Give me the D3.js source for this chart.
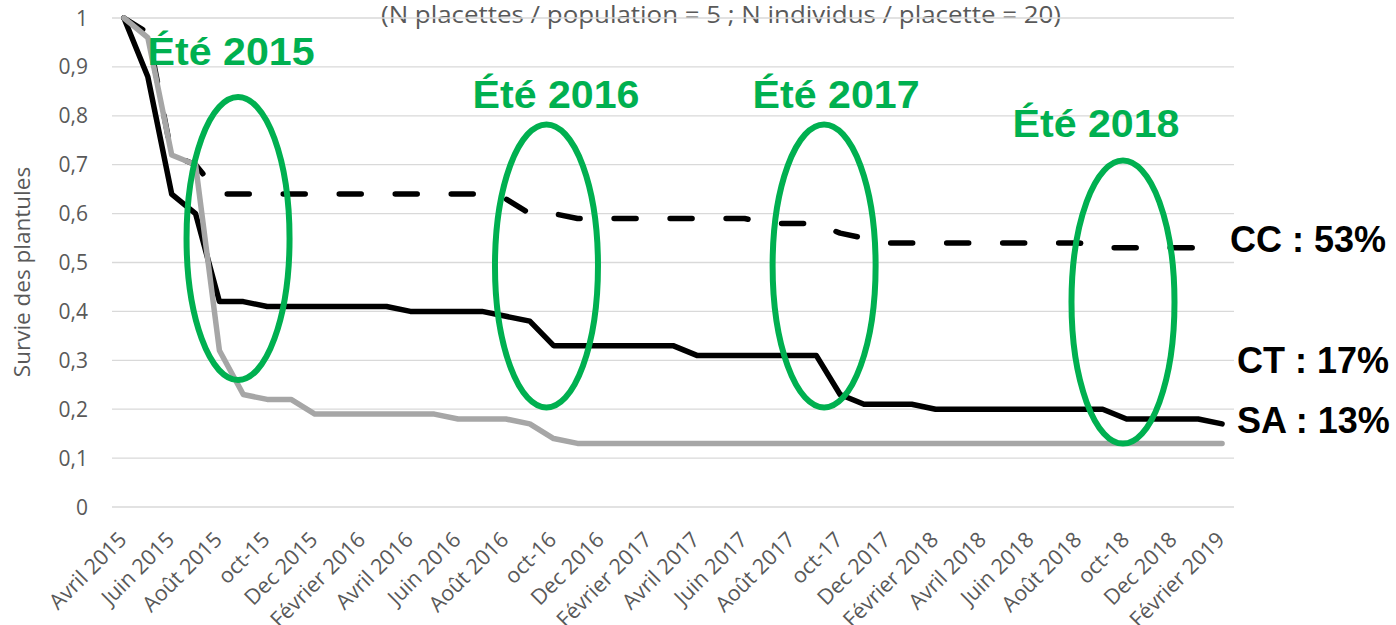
<!DOCTYPE html>
<html>
<head>
<meta charset="utf-8">
<script src="https://cdn.jsdelivr.net/npm/d3@7"></script>
<style>
  body { margin: 0; background: #fff; }
  text { font-family: "Open Sans", sans-serif; }
  .bold { font-family: "Liberation Sans", Arial, sans-serif; font-weight: bold; }
</style>
</head>
<body>
<svg id="chart" width="1396" height="625"></svg>
<script>
// x axis labels (one every two months, data is monthly)
const tickLabels = ['Avril 2015', 'Juin 2015', 'Août 2015', 'oct-15', 'Dec 2015', 'Février 2016',
  'Avril 2016', 'Juin 2016', 'Août 2016', 'oct-16', 'Dec 2016', 'Février 2017',
  'Avril 2017', 'Juin 2017', 'Août 2017', 'oct-17', 'Dec 2017', 'Février 2018',
  'Avril 2018', 'Juin 2018', 'Août 2018', 'oct-18', 'Dec 2018', 'Février 2019'];
const yTicks = [0, 0.1, 0.2, 0.3, 0.4, 0.5, 0.6, 0.7, 0.8, 0.9, 1];

// monthly survival, avril 2015 -> février 2019
const cc = [1, 0.97, 0.72, 0.70, 0.64, 0.64, 0.64, 0.64, 0.64, 0.64, 0.64, 0.64, 0.64, 0.64, 0.64, 0.64,
  0.63, 0.60, 0.60, 0.59, 0.59, 0.59, 0.59, 0.59, 0.59, 0.59, 0.59, 0.58, 0.58, 0.58, 0.56, 0.55,
  0.54, 0.54, 0.54, 0.54, 0.54, 0.54, 0.54, 0.54, 0.54, 0.53, 0.53, 0.53, 0.53, 0.53, 0.53];
const ct = [1, 0.88, 0.64, 0.60, 0.42, 0.42, 0.41, 0.41, 0.41, 0.41, 0.41, 0.41, 0.40, 0.40, 0.40, 0.40,
  0.39, 0.38, 0.33, 0.33, 0.33, 0.33, 0.33, 0.33, 0.31, 0.31, 0.31, 0.31, 0.31, 0.31, 0.23, 0.21,
  0.21, 0.21, 0.20, 0.20, 0.20, 0.20, 0.20, 0.20, 0.20, 0.20, 0.18, 0.18, 0.18, 0.18, 0.17];
const sa = [1, 0.96, 0.72, 0.70, 0.32, 0.23, 0.22, 0.22, 0.19, 0.19, 0.19, 0.19, 0.19, 0.19, 0.18, 0.18,
  0.18, 0.17, 0.14, 0.13, 0.13, 0.13, 0.13, 0.13, 0.13, 0.13, 0.13, 0.13, 0.13, 0.13, 0.13, 0.13,
  0.13, 0.13, 0.13, 0.13, 0.13, 0.13, 0.13, 0.13, 0.13, 0.13, 0.13, 0.13, 0.13, 0.13, 0.13];

// summer annotations (month index, survival value)
const summers = ['Été 2015', 'Été 2016', 'Été 2017', 'Été 2018'];
const summerMonth = [4.78, 17.70, 29.33, 41.85];
const summerValue = [0.549, 0.493, 0.493, 0.419];
const summerLabelMonth = [4.49, 18.10, 29.83, 40.72];
const summerLabelValue = [0.904, 0.816, 0.816, 0.757];

const endLabels = ['CC : 53%', 'CT : 17%', 'SA : 13%'];
const endLabelValue = [0.521, 0.274, 0.151];

const svg = d3.select('#chart');
const left = 112, right = 1234;

const x = d3.scaleLinear().domain([-0.5, cc.length - 0.5]).range([left, right]);
const y = d3.scaleLinear().domain([0, 1]).range([507, 18]);

// subtitle (sits behind the grid)
svg.append('text')
  .attr('x', 721).attr('y', 23)
  .attr('text-anchor', 'middle')
  .attr('fill', '#595959')
  .attr('font-size', 23)
  .attr('textLength', 680)
  .attr('lengthAdjust', 'spacingAndGlyphs')
  .text('(N placettes / population = 5 ; N individus / placette = 20)');

// grid
svg.append('g').selectAll('line').data(yTicks).join('line')
  .attr('x1', left).attr('x2', right)
  .attr('y1', d => y(d)).attr('y2', d => y(d))
  .attr('stroke', '#d9d9d9').attr('stroke-width', 1.3);

// y ticks
svg.append('g').selectAll('text').data(yTicks).join('text')
  .attr('x', 88).attr('y', d => y(d))
  .attr('dy', '0.36em')
  .attr('text-anchor', 'end')
  .attr('fill', '#595959')
  .attr('font-size', 21)
  .text(d => String(d).replace('.', ','));

svg.append('text')
  .attr('transform', 'translate(30,272) rotate(-90)')
  .attr('text-anchor', 'middle')
  .attr('fill', '#595959')
  .attr('font-size', 22.5)
  .text('Survie des plantules');

// x ticks
svg.append('g').selectAll('text').data(tickLabels).join('text')
  .attr('transform', (d, i) => `translate(${x(i * 2) + 4},541) rotate(-45)`)
  .attr('text-anchor', 'end')
  .attr('fill', '#595959')
  .attr('font-size', 21.5)
  .text(d => d);

const line = d3.line().x((d, i) => x(i)).y(d => y(d));

svg.append('path').datum(cc)
  .attr('d', line)
  .attr('fill', 'none').attr('stroke', '#000').attr('stroke-width', 5.5)
  .attr('stroke-dasharray', '22,34')
  .attr('stroke-linecap', 'round').attr('stroke-linejoin', 'round');

svg.append('path').datum(ct)
  .attr('d', line)
  .attr('fill', 'none').attr('stroke', '#000').attr('stroke-width', 5.5)
  .attr('stroke-linecap', 'round').attr('stroke-linejoin', 'round');

svg.append('path').datum(sa)
  .attr('d', line)
  .attr('fill', 'none').attr('stroke', '#a6a6a6').attr('stroke-width', 5.5)
  .attr('stroke-linecap', 'round').attr('stroke-linejoin', 'round');

// summer ellipses and labels
svg.append('g').selectAll('ellipse').data(summers).join('ellipse')
  .attr('cx', (d, i) => x(summerMonth[i]))
  .attr('cy', (d, i) => y(summerValue[i]))
  .attr('rx', 51.5).attr('ry', 141.5)
  .attr('fill', 'none').attr('stroke', '#00b050').attr('stroke-width', 6);

svg.append('g').selectAll('text').data(summers).join('text')
  .attr('class', 'bold')
  .attr('x', (d, i) => x(summerLabelMonth[i]))
  .attr('y', (d, i) => y(summerLabelValue[i]))
  .attr('text-anchor', 'middle')
  .attr('fill', '#00b050')
  .attr('font-size', 38)
  .attr('textLength', 167)
  .attr('lengthAdjust', 'spacingAndGlyphs')
  .text(d => d);

svg.append('g').selectAll('text').data(endLabels).join('text')
  .attr('class', 'bold')
  .attr('x', (d, i) => x(cc.length - 1) + (i === 0 ? 8 : 15))
  .attr('y', (d, i) => y(endLabelValue[i]))
  .attr('fill', '#000')
  .attr('font-size', 36)
  .text(d => d);
</script>
</body>
</html>
